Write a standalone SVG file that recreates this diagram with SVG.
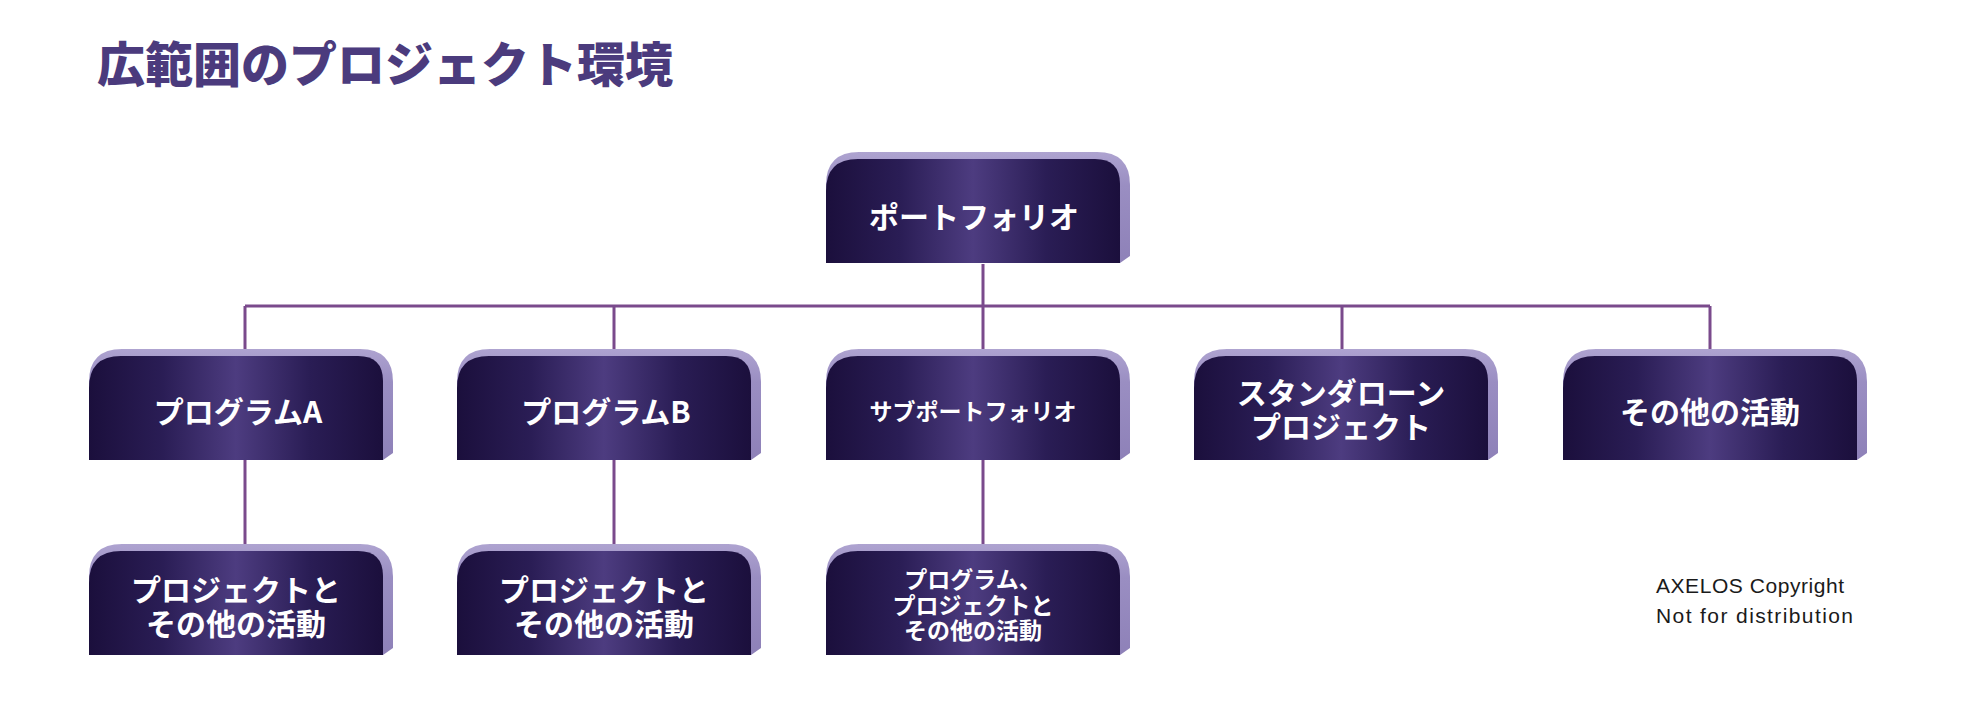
<svg xmlns="http://www.w3.org/2000/svg" xmlns:xlink="http://www.w3.org/1999/xlink" width="1968" height="718" viewBox="0 0 1968 718">
<defs>
<linearGradient id="faceGrad" x1="0" y1="0" x2="1" y2="0">
<stop offset="0" stop-color="#1b0f3c"/>
<stop offset="0.25" stop-color="#2a1d55"/>
<stop offset="0.5" stop-color="#4d3c80"/>
<stop offset="0.75" stop-color="#2a1d55"/>
<stop offset="1" stop-color="#1b0f3c"/>
</linearGradient>
<linearGradient id="backGrad" x1="0" y1="0" x2="0" y2="1">
<stop offset="0" stop-color="#aea3d0"/>
<stop offset="0.3" stop-color="#9a8ec2"/>
<stop offset="1" stop-color="#8e81b8"/>
</linearGradient>
<g id="box">
<path d="M0,26 Q0,-7 33,-7 L271,-7 Q304,-7 304,26 L304,97 L294,104 L0,104 Z" fill="url(#backGrad)"/>
<path d="M0,32 Q0,0 32,0 L269,0 Q294,0 294,25 L294,104 L0,104 Z" fill="url(#faceGrad)"/>
</g>
</defs>
<style>
.t{font-family:"Noto Sans CJK JP","Liberation Sans",sans-serif;font-weight:700;fill:#ffffff;text-anchor:middle;}
.big{font-size:30px;}
.small{font-size:23px;}
.title{font-family:"Noto Sans CJK JP",sans-serif;font-weight:900;font-size:48px;fill:#4b3b7d;}
.copy{font-family:"Liberation Sans",Arial,sans-serif;font-size:21px;fill:#1a1a1a;}
.conn{stroke:#7a4a8c;stroke-width:3;fill:none;}
</style>
<text class="title" x="97" y="82">広範囲のプロジェクト環境</text>
<g id="connectors">
<path class="conn" d="M983,264 V306 M245,306 H1710 M245,306 V349 M614,306 V349 M983,306 V349 M1342,306 V349 M1710,306 V349 M245,460 V544 M614,460 V544 M983,460 V544"/>
</g>
<g id="portfolio">
<use xlink:href="#box" href="#box" transform="translate(826,159)"/>
<text class="t big" x="974" y="228">ポートフォリオ</text>
</g>
<g id="programA">
<use xlink:href="#box" href="#box" transform="translate(89,356)"/>
<text class="t big" x="238" y="423">プログラムA</text>
</g>
<g id="programB">
<use xlink:href="#box" href="#box" transform="translate(457,356)"/>
<text class="t big" x="606" y="423">プログラムB</text>
</g>
<g id="subportfolio">
<use xlink:href="#box" href="#box" transform="translate(826,356)"/>
<text class="t small" x="973" y="420">サブポートフォリオ</text>
</g>
<g id="standalone">
<use xlink:href="#box" href="#box" transform="translate(1194,356)"/>
<text class="t big" x="1341" y="404">スタンダローン</text>
<text class="t big" x="1341" y="438">プロジェクト</text>
</g>
<g id="other">
<use xlink:href="#box" href="#box" transform="translate(1563,356)"/>
<text class="t big" x="1710" y="423">その他の活動</text>
</g>
<g id="projA">
<use xlink:href="#box" href="#box" transform="translate(89,551)"/>
<text class="t big" x="236" y="601">プロジェクトと</text>
<text class="t big" x="236" y="635">その他の活動</text>
</g>
<g id="projB">
<use xlink:href="#box" href="#box" transform="translate(457,551)"/>
<text class="t big" x="604" y="601">プロジェクトと</text>
<text class="t big" x="604" y="635">その他の活動</text>
</g>
<g id="projSub">
<use xlink:href="#box" href="#box" transform="translate(826,551)"/>
<text class="t small" x="973" y="588">プログラム、</text>
<text class="t small" x="973" y="614">プロジェクトと</text>
<text class="t small" x="973" y="639">その他の活動</text>
</g>
<text class="copy" x="1656" y="593" textLength="188" lengthAdjust="spacing">AXELOS Copyright</text>
<text class="copy" x="1656" y="623" textLength="197" lengthAdjust="spacing">Not for distribution</text>
</svg>
